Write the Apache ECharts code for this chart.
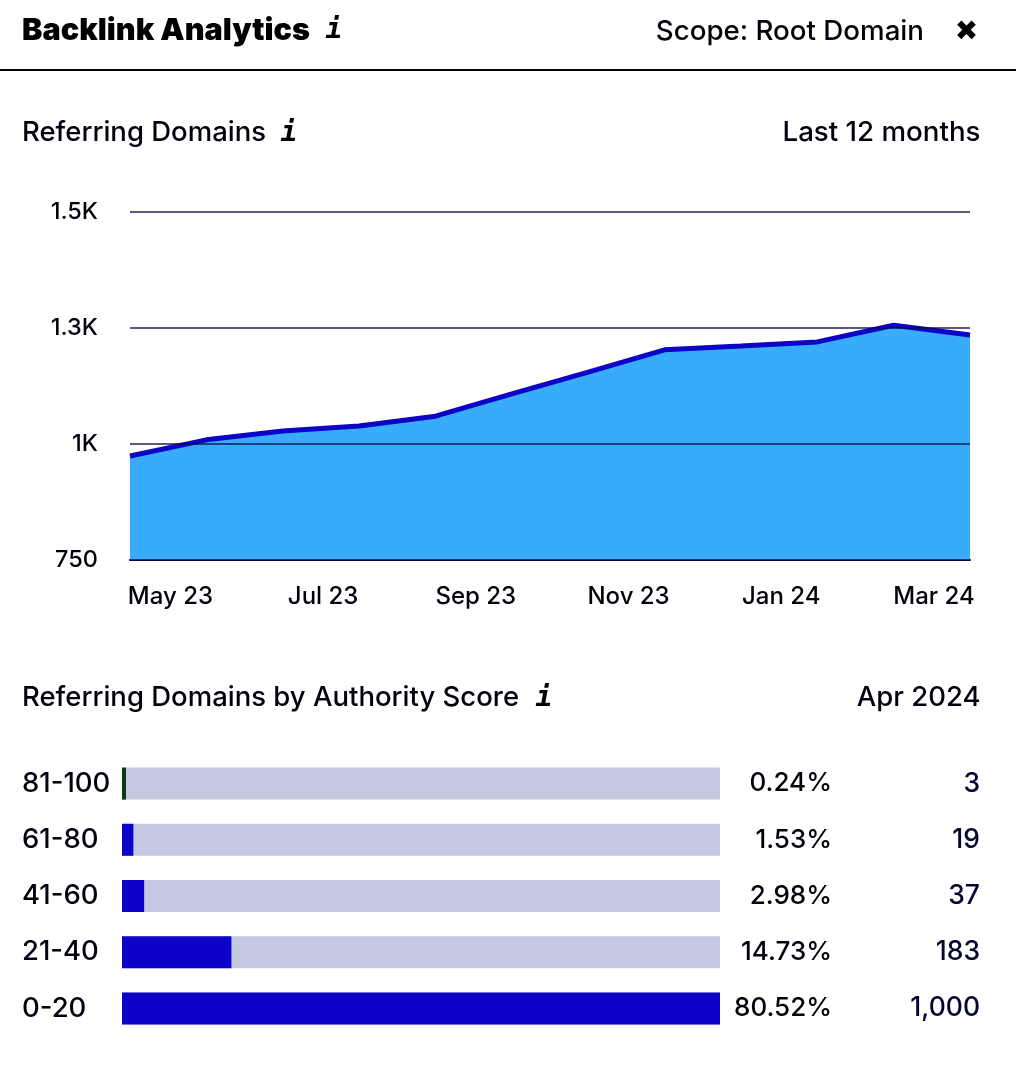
<!DOCTYPE html>
<html><head><meta charset="utf-8">
<script src="https://cdn.jsdelivr.net/npm/echarts@6/dist/echarts.min.js"></script>
<style>html,body{margin:0;padding:0;background:#fff}#c{width:1016px;height:1068px}</style>
</head><body><div id="c"></div>
<script>
const months = ['Apr 23','May 23','Jun 23','Jul 23','Aug 23','Sep 23','Oct 23','Nov 23','Dec 23','Jan 24','Feb 24','Mar 24'];
const domains = [974,1009,1028,1039,1060,1108,1155,1203,1211,1220,1256,1235];
const yTickLabels = {750:'750',1000:'1K',1250:'1.3K',1500:'1.5K'};
const scoreBands = ['81-100','61-80','41-60','21-40','0-20'];
const scorePercents = [0.24,1.53,2.98,14.73,80.52];
const percentLabels = ['0.24%','1.53%','2.98%','14.73%','80.52%'];
const countLabels = ['3','19','37','183','1,000'];

const F = 'Inter, "Noto Sans", sans-serif';
const INK = '#02020f';
const BLUE = '#0c04c6';
function txt(x,y,t,size,opts){
  return {type:'text',x:x,y:y,silent:true,style:Object.assign({text:t,fontFamily:F,fontSize:size,fontWeight:500,fill:INK,textAlign:'left',textVerticalAlign:'middle'},opts||{})};
}
const iconStyle = {fontFamily:'"DejaVu Sans Mono"',fontStyle:'italic',fontWeight:700,fill:'#000',textAlign:'center'};
const chart = echarts.init(document.getElementById('c'),null,{renderer:'canvas'});
chart.setOption({
  animation:false,
  backgroundColor:'#fff',
  textStyle:{fontFamily:F},
  graphic:[
    {type:'line',silent:true,shape:{x1:0,y1:70,x2:1016,y2:70},style:{stroke:'#000',lineWidth:2}},
    txt(22,31,'Backlink Analytics',30.6,{fontWeight:900,fill:'#000'}),
    txt(334,31,'i',28,iconStyle),
    txt(924,32,'Scope: Root Domain',27.7,{textAlign:'right'}),
    txt(966.5,33,'✖',28,{textAlign:'center',fontFamily:'"DejaVu Sans"',fontWeight:400,fill:'#000'}),
    txt(22,133,'Referring Domains',27.5),
    txt(289,134,'i',28,iconStyle),
    txt(980.5,133,'Last 12 months',27.7,{textAlign:'right'}),
    txt(22,698,'Referring Domains by Authority Score',27.5),
    txt(544,699,'i',28,iconStyle),
    txt(980.5,698,'Apr 2024',27.5,{textAlign:'right'})
  ],
  grid:[
    {left:130,width:840,top:212,height:348,containLabel:false},
    {left:122,width:598,top:755.5,height:281,containLabel:false}
  ],
  xAxis:[
    {type:'category',gridIndex:0,boundaryGap:false,data:months,
      axisLine:{lineStyle:{color:'#00002a',width:2}},axisTick:{show:false},splitLine:{show:false},
      axisLabel:{interval:(i)=>i%2===1,align:'center',padding:[0,72,0,0],margin:25,color:INK,fontFamily:F,fontSize:24,fontWeight:500}},
    {type:'value',gridIndex:1,min:0,max:scorePercents[4],show:false}
  ],
  yAxis:[
    {type:'value',gridIndex:0,min:750,max:1500,interval:250,z:5,
      axisLine:{show:false},axisTick:{show:false},
      splitLine:{lineStyle:{color:'rgba(10,10,70,0.68)',width:2}},
      axisLabel:{margin:32,padding:[8,0,0,0],color:INK,fontFamily:F,fontSize:23.5,fontWeight:500,formatter:(v)=>yTickLabels[v]}},
    {type:'category',gridIndex:1,inverse:true,data:scoreBands,
      axisLine:{show:false},axisTick:{show:false},
      axisLabel:{align:'left',margin:100,padding:[6,0,0,0],color:INK,fontFamily:F,fontSize:27.5,fontWeight:500}},
    {type:'category',gridIndex:1,inverse:true,position:'right',offset:111,data:percentLabels,
      axisLine:{show:false},axisTick:{show:false},
      axisLabel:{align:'right',margin:1,padding:[6,0,0,0],color:INK,fontFamily:F,fontSize:26,fontWeight:500}},
    {type:'category',gridIndex:1,inverse:true,position:'right',offset:260,data:countLabels,
      axisLine:{show:false},axisTick:{show:false},
      axisLabel:{align:'right',margin:0,padding:[6,0,0,0],color:'#05052f',fontFamily:F,fontSize:26.5,fontWeight:500}}
  ],
  series:[
    {type:'line',xAxisIndex:0,yAxisIndex:0,data:domains,symbol:'none',smooth:false,
      lineStyle:{color:BLUE,width:5,cap:'butt'},areaStyle:{color:'#38acf9',opacity:1},z:2},
    {type:'bar',xAxisIndex:1,yAxisIndex:1,barWidth:32,barMinHeight:4,
      showBackground:true,backgroundStyle:{color:'#c4c9e2'},
      data:scorePercents.map((v,i)=>({value:v,itemStyle:{color:i===0?'#0b3a12':BLUE}}))}
  ]
});
</script></body></html>
